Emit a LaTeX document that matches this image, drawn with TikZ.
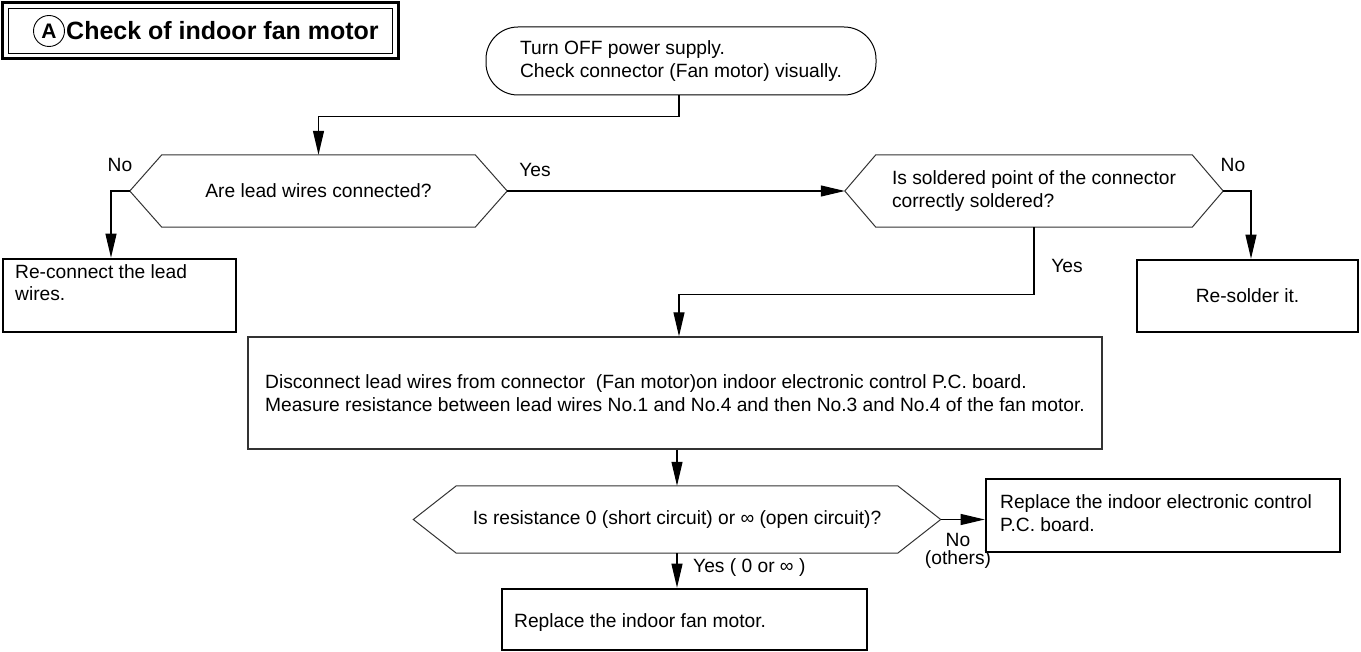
\documentclass[tikz,border=0pt]{standalone}
\usepackage{fontspec}
\setmainfont{Liberation Sans}
\usetikzlibrary{arrows.meta,calc}

% hexagonal decision outline around a (undrawn) rectangle node
\newcommand\hexoutline[2]{%
  \draw[hexline] (#1.west) -- ([xshift=#2]#1.north west) -- ([xshift=-#2]#1.north east)
    -- (#1.east) -- ([xshift=-#2]#1.south east) -- ([xshift=#2]#1.south west) -- cycle;}

\begin{document}
\begin{tikzpicture}[x=1pt,y=-1pt,
  every node/.style={font=\fontsize{19.2}{22.5}\selectfont, inner sep=0pt},
  conn/.style={line width=1.1pt, draw=black},
  arr/.style={conn, -{Triangle[length=24pt,width=11pt]}},
  hexline/.style={line width=1pt, draw=black!80},
  decision/.style={rectangle, minimum width=#1},
  thickbox/.style={rectangle, draw=black, line width=2.6pt},
  thinbox/.style={rectangle, draw=black!80, line width=1.3pt},
  lbl/.style={font=\fontsize{19.2}{22.5}\selectfont}]

\useasboundingbox (0,0) rectangle (1361,652);

% title plate
\node[rectangle, draw=black, line width=2.6pt, minimum width=396pt, minimum height=56pt] (titleframe) at (200.5,30.5) {};
\node[rectangle, draw=black, line width=0.9pt, minimum width=384pt, minimum height=45pt] (titleinner) at (200.5,30.5) {};
\node[circle, draw=black, line width=0.9pt, minimum size=31pt, font=\bfseries\fontsize{21}{21}\selectfont] (circA) at (49,31) {A};
\node[anchor=base west, font=\bfseries\fontsize{25}{28}\selectfont] (title) at (66,39.5) {Check of indoor fan motor};

% start
\node[rectangle, draw=black, line width=1pt, rounded corners=32pt, minimum width=390pt, minimum height=68pt, align=left] (start) at (681,61)
  {Turn OFF power supply.\\Check connector (Fan motor) visually.};

% decisions
\node[decision=377pt, minimum height=72pt] (q1) at (318.5,191) {Are lead wires connected?};
\hexoutline{q1}{32pt}
\node[decision=378pt, minimum height=72pt, align=left] (q2) at (1034,191) {Is soldered point of the connector\\correctly soldered?};
\hexoutline{q2}{31pt}
\node[decision=527pt, minimum height=67pt] (q3) at (677,519.5) {Is resistance 0 (short circuit) or ∞ (open circuit)?};
\hexoutline{q3}{43pt}

% action boxes
\node[thickbox, minimum width=233pt, minimum height=73pt] (fix1) at (119.5,295.5) {};
\node[anchor=base west, align=left] (fix1txt) at (15,301) {Re-connect the lead\\wires.};
\node[thickbox, minimum width=221pt, minimum height=72pt] (fix2) at (1247.5,296) {Re-solder it.};
\node[thinbox, minimum width=854pt, minimum height=112pt, align=left] (meas) at (675,393)
  {Disconnect lead wires from connector\ \ (Fan motor)on indoor electronic control P.C. board.\\
   Measure resistance between lead wires No.1 and No.4 and then No.3 and No.4 of the fan motor.};
\node[thickbox, minimum width=354pt, minimum height=73pt] (pcb) at (1163,515.5) {};
\node[anchor=base west, align=left] (pcbtxt) at (1000,531) {Replace the indoor electronic control\\P.C. board.};
\node[thickbox, minimum width=365pt, minimum height=61pt] (motor) at (684.5,619.5) {};
\node[anchor=base west] (motortxt) at (514,627) {Replace the indoor fan motor.};

\coordinate (colx) at (679,0);

% connectors
\draw[arr] (start.south -| colx) -- ++(0,21) -| (q1.north);
\draw[arr] (q1.west) -| ([xshift=-8.5pt]fix1.north);
\draw[arr] (q1.east) -- (q2.west);
\draw[arr] (q2.east) -| ([xshift=3.5pt]fix2.north);
\draw[arr] (q2.south) -- ++(0,67) -| (meas.north -| colx);
\draw[arr] (meas.south -| q3.north) -- (q3.north);
\draw[arr] (q3.east) -- (q3.east -| pcb.west);
\draw[arr] (q3.south) -- (q3.south |- motor.north);

% branch labels
\node[lbl] (no1) at (120,165) {No};
\node[lbl] (yes1) at (535,170) {Yes};
\node[lbl] (no2) at (1233,165) {No};
\node[lbl] (yes2) at (1067,266) {Yes};
\node[lbl] (no3) at (958,540) {No};
\node[lbl] (no3b) at (958,560) {(others)};
\node[lbl, anchor=west] (yes3) at (693,568) {Yes ( 0 or ∞ )};

\end{tikzpicture}
\end{document}
